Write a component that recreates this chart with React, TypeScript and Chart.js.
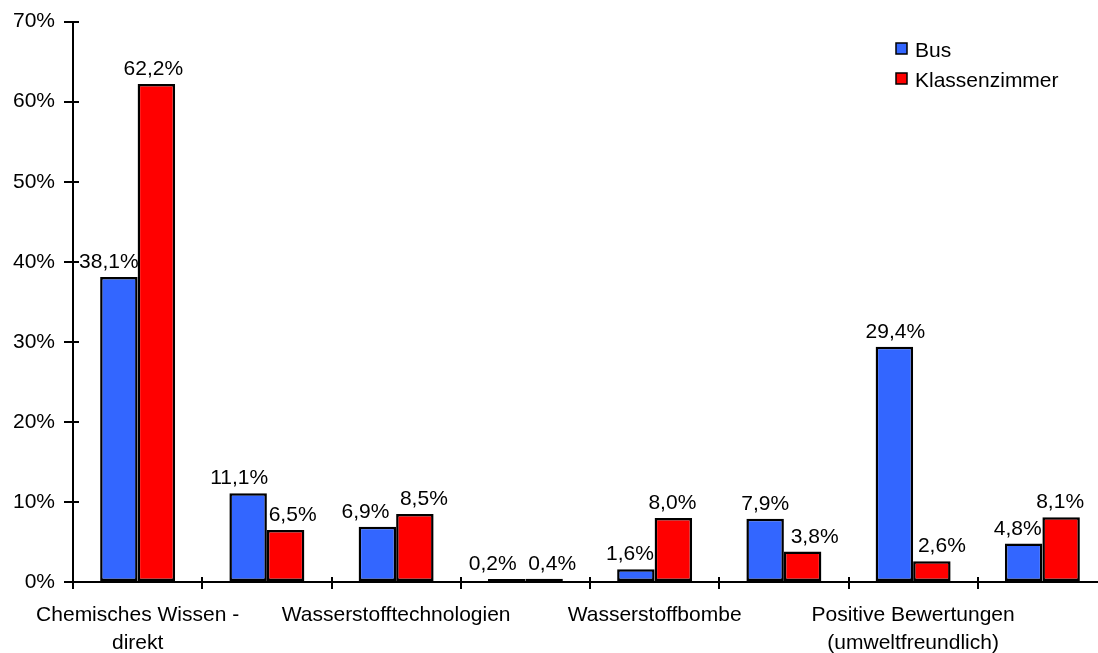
import React, { useEffect, useRef } from "react";
import { Chart, registerables } from "chart.js";

Chart.register(...registerables);

// Categories (every other axis label is left blank, as on the printed chart)
const categories: (string | string[])[] = [
  ["Chemisches Wissen -", "direkt"],
  "",
  "Wasserstofftechnologien",
  "",
  "Wasserstoffbombe",
  "",
  ["Positive Bewertungen", "(umweltfreundlich)"],
  "",
];

const busValues = [38.1, 11.1, 6.9, 0.2, 1.6, 7.9, 29.4, 4.8];
const klassenzimmerValues = [62.2, 6.5, 8.5, 0.4, 8.0, 3.8, 2.6, 8.1];

const seriesNames = ["Bus", "Klassenzimmer"];
const seriesColors = ["#3366FF", "#FF0000"];

const yTicks = [0, 10, 20, 30, 40, 50, 60, 70];

// Horizontal nudges (px) for the value labels so neighbours don't collide
const labelNudge = [
  [-10, -9, -12, -14, -6, 0, 1, -6],
  [-3, 7, 9, 8, -1, 12, 10, -1],
];

const FONT = '"Liberation Sans", Arial, sans-serif';
const FONT_SIZE = 21;

const fmt = (v: number) => v.toFixed(1).replace(".", ",") + "%";

// Value labels, inner halves of the axis tick marks and the legend box
const overlayPlugin = {
  id: "overlay",
  afterDatasetsDraw(chart: any) {
    const ctx: CanvasRenderingContext2D = chart.ctx;
    const { left, right, bottom } = chart.chartArea;
    const yScale = chart.scales.y;
    ctx.save();

    // tick marks cross the axes
    ctx.strokeStyle = "#000";
    ctx.lineWidth = 2;
    yTicks.forEach((t) => {
      const y = Math.round(yScale.getPixelForValue(t));
      ctx.beginPath();
      ctx.moveTo(left, y);
      ctx.lineTo(left + 6, y);
      ctx.stroke();
    });
    const n = categories.length;
    const catW = (right - left) / n;
    for (let i = 0; i <= n; i++) {
      const x = Math.round(left + i * catW);
      ctx.beginPath();
      ctx.moveTo(x, bottom);
      ctx.lineTo(x, bottom - 5);
      ctx.stroke();
    }

    // value labels
    ctx.font = `${FONT_SIZE}px ${FONT}`;
    ctx.fillStyle = "#000";
    ctx.textAlign = "center";
    ctx.textBaseline = "alphabetic";
    chart.data.datasets.forEach((ds: any, di: number) => {
      const meta = chart.getDatasetMeta(di);
      meta.data.forEach((bar: any, i: number) => {
        ctx.fillText(fmt(ds.data[i]), bar.x + labelNudge[di][i], bar.y - 9);
      });
    });

    // legend
    const lx = 896;
    const ly = [43, 73];
    ctx.textAlign = "left";
    ctx.textBaseline = "middle";
    ctx.font = `${FONT_SIZE}px ${FONT}`;
    seriesNames.forEach((name, i) => {
      ctx.fillStyle = seriesColors[i];
      ctx.fillRect(lx, ly[i], 11, 11);
      ctx.lineWidth = 1.5;
      ctx.strokeStyle = "#000";
      ctx.strokeRect(lx, ly[i], 11, 11);
      ctx.fillStyle = "#000";
      ctx.fillText(name, lx + 19, ly[i] + 8);
    });

    ctx.restore();
  },
};

export default function App() {
  const canvasRef = useRef<HTMLCanvasElement | null>(null);

  useEffect(() => {
    document.body.style.overflow = "hidden";
    const canvas = canvasRef.current;
    if (!canvas) return;
    const barStyle = {
      borderColor: "#000",
      borderWidth: 2.5,
      borderSkipped: false,
      minBarLength: 3,
      categoryPercentage: 0.58,
      barPercentage: 1.0,
    };
    const chart = new Chart(canvas, {
      type: "bar",
      data: {
        labels: categories,
        datasets: [
          {
            label: seriesNames[0],
            data: busValues,
            backgroundColor: seriesColors[0],
            ...barStyle,
          },
          {
            label: seriesNames[1],
            data: klassenzimmerValues,
            backgroundColor: seriesColors[1],
            ...barStyle,
          },
        ],
      },
      options: {
        animation: false,
        responsive: true,
        maintainAspectRatio: false,
        layout: { padding: { top: 20, right: 3, left: 0, bottom: 0 } },
        plugins: {
          legend: { display: false },
          tooltip: { enabled: false },
        },
        scales: {
          x: {
            grid: {
              offset: true,
              drawOnChartArea: false,
              drawTicks: true,
              tickLength: 7,
              color: "#000",
              lineWidth: 2,
            },
            border: { display: true, color: "#000", width: 2 },
            ticks: {
              autoSkip: false,
              maxRotation: 0,
              minRotation: 0,
              padding: 12,
              color: "#000",
              font: { family: FONT, size: FONT_SIZE, lineHeight: 1.33 },
            },
            afterFit: (scale: any) => {
              scale.height = 71;
            },
          },
          y: {
            min: 0,
            max: 70,
            grid: {
              drawOnChartArea: false,
              drawTicks: true,
              tickLength: 9,
              color: "#000",
              lineWidth: 2,
            },
            border: { display: true, color: "#000", width: 2 },
            ticks: {
              stepSize: 10,
              padding: 9,
              color: "#000",
              font: { family: FONT, size: FONT_SIZE },
              callback: (v: any) => `${v}%`,
            },
            afterFit: (scale: any) => {
              scale.width = 73;
            },
          },
        },
      },
      plugins: [overlayPlugin],
    });
    return () => chart.destroy();
  }, []);

  return (
    <div
      style={{
        position: "fixed",
        left: 0,
        top: 0,
        width: 1110,
        height: 653,
        background: "#fff",
      }}
    >
      <canvas ref={canvasRef} />
    </div>
  );
}
